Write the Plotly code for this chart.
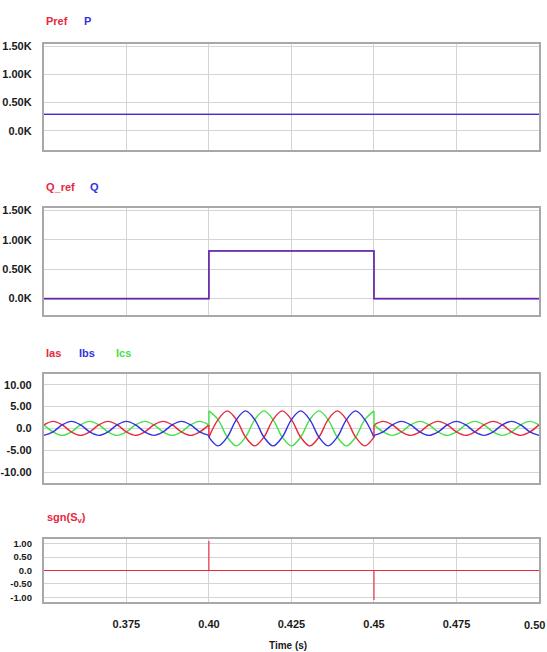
import plotly.graph_objects as go

# ---------------- data ----------------
x_range = [0.35, 0.50]
x_tickvals = [0.375, 0.40, 0.425, 0.45, 0.475, 0.50]
x_ticktext = ["0.375", "0.40", "0.425", "0.45", "0.475", "0.50"]

# Panel 1: active power
p_t = [0.35, 0.50]
pref_vals = [290, 290]
p_vals = [290, 290]

# Panel 2: reactive power
q_t = [0.35, 0.40, 0.40, 0.45, 0.45, 0.50]
qref_vals = [0, 0, 810, 810, 0, 0]
q_vals = [0, 0, 810, 810, 0, 0]

# Panel 3: phase currents, knots at peaks / half-peaks (every 60 deg) per segment
t_seg1 = [0.35, 0.35278, 0.35556, 0.35833, 0.36111, 0.36389, 0.36667, 0.36944, 0.37222, 0.375,
          0.37778, 0.38056, 0.38333, 0.38611, 0.38889, 0.39167, 0.39444, 0.39722, 0.40]
t_seg2 = [0.40, 0.40278, 0.40556, 0.40833, 0.41111, 0.41389, 0.41667, 0.41944, 0.42222, 0.425,
          0.42778, 0.43056, 0.43333, 0.43611, 0.43889, 0.44167, 0.44444, 0.44722, 0.45]
t_seg3 = [0.45, 0.45278, 0.45556, 0.45833, 0.46111, 0.46389, 0.46667, 0.46944, 0.47222, 0.475,
          0.47778, 0.48056, 0.48333, 0.48611, 0.48889, 0.49167, 0.49444, 0.49722, 0.50]

ias_seg1 = [0.8, 1.6, 0.8, -0.8, -1.6, -0.8, 0.8, 1.6, 0.8, -0.8, -1.6, -0.8, 0.8, 1.6, 0.8, -0.8, -1.6, -0.8, 0.8]
ibs_seg1 = [-1.6, -0.8, 0.8, 1.6, 0.8, -0.8, -1.6, -0.8, 0.8, 1.6, 0.8, -0.8, -1.6, -0.8, 0.8, 1.6, 0.8, -0.8, -1.6]
ics_seg1 = [0.8, -0.8, -1.6, -0.8, 0.8, 1.6, 0.8, -0.8, -1.6, -0.8, 0.8, 1.6, 0.8, -0.8, -1.6, -0.8, 0.8, 1.6, 0.8]

ias_seg2 = [-2, 2, 4, 2, -2, -4, -2, 2, 4, 2, -2, -4, -2, 2, 4, 2, -2, -4, -2]
ibs_seg2 = [-2, -4, -2, 2, 4, 2, -2, -4, -2, 2, 4, 2, -2, -4, -2, 2, 4, 2, -2]
ics_seg2 = [4, 2, -2, -4, -2, 2, 4, 2, -2, -4, -2, 2, 4, 2, -2, -4, -2, 2, 4]

ias_seg3 = [0.8, 1.6, 0.8, -0.8, -1.6, -0.8, 0.8, 1.6, 0.8, -0.8, -1.6, -0.8, 0.8, 1.6, 0.8, -0.8, -1.6, -0.8, 0.8]
ibs_seg3 = [-1.6, -0.8, 0.8, 1.6, 0.8, -0.8, -1.6, -0.8, 0.8, 1.6, 0.8, -0.8, -1.6, -0.8, 0.8, 1.6, 0.8, -0.8, -1.6]
ics_seg3 = [0.8, -0.8, -1.6, -0.8, 0.8, 1.6, 0.8, -0.8, -1.6, -0.8, 0.8, 1.6, 0.8, -0.8, -1.6, -0.8, 0.8, 1.6, 0.8]

# Panel 4: sign signal
sgn_t = [0.35, 0.40, 0.40, 0.40, 0.45, 0.45, 0.45, 0.50]
sgn_vals = [0, 0, 1.1, 0, 0, -1.1, 0, 0]

# axis ticks per panel
y1_ticks = [0, 500, 1000, 1500]
y1_text = ["0.0K", "0.50K", "1.00K", "1.50K"]
y3_ticks = [-10, -5, 0, 5, 10]
y3_text = ["-10.00", "-5.00", "0.0", "5.00", "10.00"]
y4_ticks = [-1, -0.5, 0, 0.5, 1]
y4_text = ["-1.00", "-0.50", "0.0", "0.50", "1.00"]

# ---------------- styling ----------------
W, H = 547, 652
RED = "rgb(232,40,60)"
BLUE = "rgb(50,50,225)"
GREEN = "rgb(70,225,70)"
FONT = "Liberation Sans, Arial, sans-serif"
GRID = "#d4d4d4"
FRAME = "#a8a8a8"
TXT = "#1a1a1a"


def mkfont(size, color):
    return dict(family=FONT, size=size, color=color, weight="bold")


def ydom(top, bottom):
    return [1 - bottom / H, 1 - top / H]

panels = [(40, 147), (205, 313), (372, 482), (538, 602)]
xdom = [42 / W, 539 / W]

fig = go.Figure()

def add(x, y, color, i, width=1.3, shape="linear"):
    sfx = "" if i == 1 else str(i)
    fig.add_trace(go.Scatter(x=x, y=y, mode="lines",
                             line=dict(color=color, width=width, shape=shape),
                             xaxis="x" + sfx, yaxis="y" + sfx, showlegend=False,
                             hoverinfo="skip"))

add(p_t, pref_vals, RED, 1)
add(p_t, p_vals, BLUE, 1)
add(q_t, qref_vals, RED, 2, 1.6)
add(q_t, q_vals, BLUE, 2, 1.2)

segs = [
    (t_seg1, ias_seg1, ibs_seg1, ics_seg1),
    (t_seg2, ias_seg2, ibs_seg2, ics_seg2),
    (t_seg3, ias_seg3, ibs_seg3, ics_seg3),
]
for t, a, b, c in segs:
    add(t, c, GREEN, 3, 1.4, "spline")
    add(t, a, RED, 3, 1.4, "spline")
    add(t, b, BLUE, 3, 1.4, "spline")
# vertical jumps between segments
for series, col in [((ics_seg1, ics_seg2, ics_seg3), GREEN), ((ias_seg1, ias_seg2, ias_seg3), RED),
                    ((ibs_seg1, ibs_seg2, ibs_seg3), BLUE)]:
    s1, s2, s3 = series
    add([t_seg1[-1], t_seg2[0], None, t_seg2[-1], t_seg3[0]],
        [s1[-1], s2[0], None, s2[-1], s3[0]], col, 3, 1.4)

add(sgn_t, sgn_vals, RED, 4, 1.1)

layout = dict(width=W, height=H, margin=dict(l=0, r=0, t=0, b=0),
              paper_bgcolor="white", plot_bgcolor="white", showlegend=False)

yinfo = [
    ([-345, 1545], y1_ticks, y1_text, 11),
    ([-280, 1545], y1_ticks, y1_text, 11),
    ([-12.5, 12.5], y3_ticks, y3_text, 11),
    ([-1.19, 1.19], y4_ticks, y4_text, 9.5),
]
for i in range(1, 5):
    sfx = "" if i == 1 else str(i)
    top, bot = panels[i - 1]
    yr, yt, ytt, fs = yinfo[i - 1]
    layout["xaxis" + sfx] = dict(
        domain=xdom, range=x_range, anchor="y" + sfx,
        tickmode="array", tickvals=x_tickvals[:-1],
        ticktext=x_ticktext[:-1],
        showticklabels=(i == 4), ticks="", ticklabelstandoff=10,
        showgrid=True, gridcolor=GRID, gridwidth=1, zeroline=False,
        showline=True, mirror=True, linecolor=FRAME, linewidth=2,
        tickfont=mkfont(11, TXT), fixedrange=True)
    layout["yaxis" + sfx] = dict(
        domain=ydom(top, bot), range=yr, anchor="x" + sfx,
        tickmode="array", tickvals=yt, ticktext=ytt, ticks="",
        ticklabelstandoff=8,
        showgrid=True, gridcolor=GRID, gridwidth=1, zeroline=False,
        showline=True, mirror=True, linecolor=FRAME, linewidth=2,
        tickfont=mkfont(fs, TXT), fixedrange=True)

fig.update_layout(**layout)

# last x tick label sits at the page edge; draw it right-aligned so it stays visible
fig.add_annotation(text=x_ticktext[-1], xref="paper", yref="paper", x=1.0, y=1 - 625 / H,
                   xanchor="right", yanchor="middle", showarrow=False,
                   font=mkfont(11, TXT))

def label(text, xpx, ypx, color):
    fig.add_annotation(text=text, xref="paper", yref="paper", x=xpx / W, y=1 - ypx / H,
                       xanchor="left", yanchor="middle", showarrow=False,
                       font=mkfont(11, color))

label("Pref", 42, 17, RED)
label("P", 80, 17, BLUE)
label("Q_ref", 42, 184, RED)
label("Q", 86, 184, BLUE)
label("Ias", 42, 351, RED)
label("Ibs", 75, 351, BLUE)
label("Ics", 112, 351, GREEN)
label("sgn(S<sub>v</sub>)", 43, 517, RED)

fig.add_annotation(text="Time (s)", xref="paper", yref="paper", x=287 / W, y=1 - 645 / H,
                   xanchor="center", yanchor="middle", showarrow=False,
                   font=mkfont(10, TXT))

fig.write_html("out.html")
